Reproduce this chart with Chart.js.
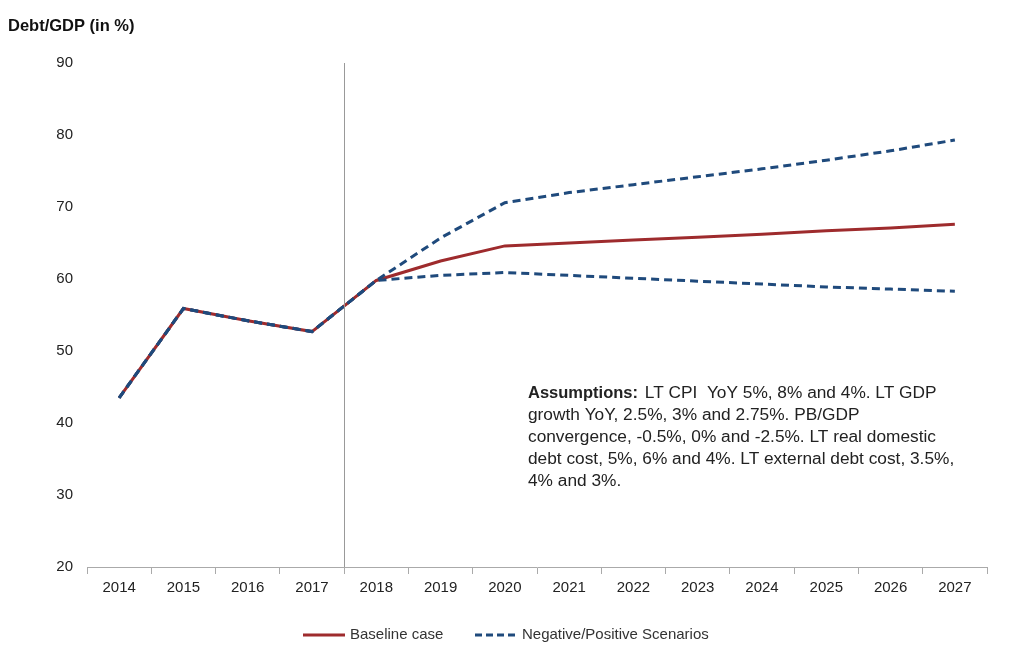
<!DOCTYPE html>
<html><head><meta charset="utf-8">
<script src="https://cdn.jsdelivr.net/npm/chart.js@4"></script>
<style>html,body{margin:0;padding:0;background:#fff}#w{width:1011px;height:661px}</style>
</head><body><div id="w"><canvas id="c"></canvas></div>
<script>
const years = ['2014','2015','2016','2017','2018','2019','2020','2021','2022','2023','2024','2025','2026','2027'];
const baseline = [43.5,55.9,54.2,52.7,59.8,62.5,64.6,65.0,65.4,65.8,66.2,66.7,67.1,67.6];
const negative = [43.5,55.9,54.2,52.7,59.8,65.7,70.6,72.0,73.1,74.2,75.3,76.5,77.8,79.3];
const positive = [43.5,55.9,54.2,52.7,59.8,60.5,60.9,60.5,60.1,59.7,59.3,58.9,58.6,58.3];
const yTicks = [20,30,40,50,60,70,80,90];
const yTitle = 'Debt/GDP (in %)';
const legendLabels = ['Baseline case','Negative/Positive Scenarios'];
const noteBold = 'Assumptions:';
const noteLines = [' LT CPI  YoY 5%, 8% and 4%. LT GDP','growth YoY, 2.5%, 3% and 2.75%. PB/GDP','convergence, -0.5%, 0% and -2.5%. LT real domestic','debt cost, 5%, 6% and 4%. LT external debt cost, 3.5%,','4% and 3%.'];
const RED = '#9E2B2D', BLUE = '#1F4A7C';
const FONT = "'Liberation Sans', Arial, sans-serif";

const overlay = {
  id:'overlay',
  afterDraw(chart){
    const ctx = chart.ctx, x = chart.scales.x, y = chart.scales.y;
    ctx.save();
    const xm = (x.getPixelForValue(3) + x.getPixelForValue(4)) / 2;
    ctx.strokeStyle = '#999'; ctx.lineWidth = 1;
    ctx.beginPath(); ctx.moveTo(Math.round(xm)+0.5, y.getPixelForValue(90)); ctx.lineTo(Math.round(xm)+0.5, y.bottom); ctx.stroke();
    ctx.fillStyle = '#111'; ctx.textBaseline = 'middle'; ctx.textAlign='left';
    ctx.font = "bold 16.5px " + FONT;
    ctx.fillText(yTitle, 8, 26);
    const nx = 528, ny = 393, lh = 22;
    ctx.fillStyle = '#222';
    ctx.font = "bold 16.5px " + FONT;
    ctx.fillText(noteBold, nx, ny);
    const bw = ctx.measureText(noteBold).width;
    ctx.font = "17.3px " + FONT;
    ctx.fillText(noteLines[0], nx + bw + 2, ny);
    for (let i = 1; i < noteLines.length; i++) ctx.fillText(noteLines[i], nx, ny + i*lh);
    // legend
    const ly = 635;
    ctx.lineWidth = 3;
    ctx.font = "15px " + FONT; ctx.fillStyle = '#333';
    ctx.strokeStyle = RED; ctx.setLineDash([]);
    ctx.beginPath(); ctx.moveTo(303, ly); ctx.lineTo(345, ly); ctx.stroke();
    ctx.fillText(legendLabels[0], 350, ly);
    ctx.strokeStyle = BLUE; ctx.setLineDash([7,4]);
    ctx.beginPath(); ctx.moveTo(475, ly); ctx.lineTo(518, ly); ctx.stroke();
    ctx.fillText(legendLabels[1], 522, ly);
    ctx.restore();
  }
};

new Chart(document.getElementById('c'), {
  type:'line',
  data:{labels:years, datasets:[
    {label:legendLabels[0], data:baseline, borderColor:RED, backgroundColor:RED, borderWidth:3, pointRadius:0, tension:0, order:2},
    {label:legendLabels[1], data:negative, borderColor:BLUE, backgroundColor:BLUE, borderWidth:3, borderDash:[8,5], pointRadius:0, tension:0, order:1},
    {label:'Positive', data:positive, borderColor:BLUE, backgroundColor:BLUE, borderWidth:3, borderDash:[8,5], pointRadius:0, tension:0, order:1}
  ]},
  options:{
    responsive:true, maintainAspectRatio:false, animation:false,
    layout:{padding:{top:63,right:24,left:0,bottom:64}},
    plugins:{ legend:{display:false}, tooltip:{enabled:false} },
    scales:{
      x:{offset:true, grid:{display:true, drawOnChartArea:false, drawTicks:true, tickLength:7, color:'#aaa', offset:true},
         border:{display:true, color:'#aaa', width:1},
         afterFit:(s)=>{s.height = 30;},
         ticks:{color:'#222', font:{family:FONT, size:15}, padding:5, maxRotation:0, autoSkip:false}},
      y:{min:20, max:90, afterBuildTicks:(s)=>{s.ticks = yTicks.map(v=>({value:v}));},
         afterFit:(s)=>{s.width = 87;},
         grid:{display:false}, border:{display:false},
         ticks:{color:'#222', font:{family:FONT, size:15}, padding:6}}
    }
  },
  plugins:[overlay]
});
</script></body></html>
